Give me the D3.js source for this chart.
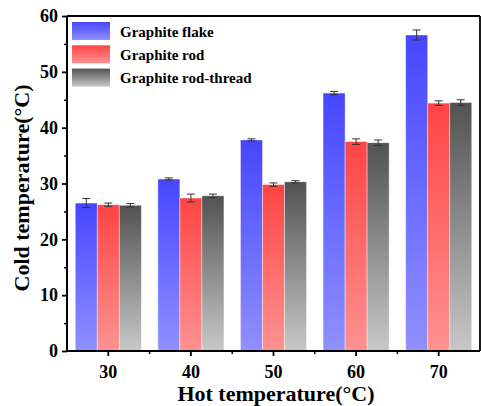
<!DOCTYPE html>
<html><head><meta charset="utf-8">
<script src="https://cdn.jsdelivr.net/npm/d3@7"></script>
<style>
body{margin:0;background:#fff;}
</style></head>
<body><svg id="c" width="481" height="406"></svg>
<script>
const categories = ["30","40","50","60","70"];
const seriesNames = ["Graphite flake","Graphite rod","Graphite rod-thread"];
const flake = [26.5, 30.8, 37.8, 46.2, 56.6];
const flakeErr = [0.8, 0.2, 0.2, 0.3, 0.9];
const rod = [26.2, 27.4, 29.8, 37.5, 44.4];
const rodErr = [0.3, 0.7, 0.3, 0.5, 0.4];
const thread = [26.1, 27.8, 30.3, 37.3, 44.5];
const threadErr = [0.3, 0.3, 0.2, 0.5, 0.5];
const yTicks = [0,10,20,30,40,50,60];
const yMinor = [5,15,25,35,45,55];
const xTitle = "Hot temperature(\u00B0C)";
const yTitle = "Cold temperature(\u00B0C)";

const gradColors = [["#4646ff","#9090ff"],["#ff4444","#ff9292"],["#525252","#c8c8c8"]];
const FONT = "Liberation Serif";

const svg = d3.select("#c");
const L = 67, R = 480, T = 16, B = 351;

const x0 = d3.scaleBand().domain(categories).range([L, R]).paddingInner(0.2).paddingOuter(0.1);
const x1 = d3.scaleBand().domain(seriesNames).range([0, x0.bandwidth()]);
const y = d3.scaleLinear().domain([0, 60]).range([B, T]);

const defs = svg.append("defs");
gradColors.forEach((c, i) => {
  const g = defs.append("linearGradient").attr("id", "g" + i).attr("x1", 0).attr("y1", 0).attr("x2", 0).attr("y2", 1);
  g.append("stop").attr("offset", "0%").attr("stop-color", c[0]);
  g.append("stop").attr("offset", "100%").attr("stop-color", c[1]);
});

const series = [
  {name: seriesNames[0], vals: flake, errs: flakeErr},
  {name: seriesNames[1], vals: rod, errs: rodErr},
  {name: seriesNames[2], vals: thread, errs: threadErr}
];

series.forEach((s, si) => {
  const data = categories.map((c, i) => ({c, v: s.vals[i], e: s.errs[i]}));
  const g = svg.append("g");
  g.selectAll("rect").data(data).join("rect")
    .attr("x", d => x0(d.c) + x1(s.name))
    .attr("y", d => y(d.v))
    .attr("width", x1.bandwidth())
    .attr("height", d => y(0) - y(d.v))
    .attr("fill", "url(#g" + si + ")")
    .attr("stroke", "rgba(255,255,255,0.5)").attr("stroke-width", 0.8);
  const eb = g.selectAll("g.eb").data(data).join("g").attr("class", "eb")
    .attr("stroke", "#333").attr("stroke-width", 1);
  const cx = d => x0(d.c) + x1(s.name) + x1.bandwidth() / 2;
  eb.append("line").attr("x1", cx).attr("x2", cx).attr("y1", d => y(d.v + d.e)).attr("y2", d => y(d.v - d.e));
  eb.append("line").attr("x1", d => cx(d) - 4).attr("x2", d => cx(d) + 4).attr("y1", d => y(d.v + d.e)).attr("y2", d => y(d.v + d.e));
  eb.append("line").attr("x1", d => cx(d) - 4).attr("x2", d => cx(d) + 4).attr("y1", d => y(d.v - d.e)).attr("y2", d => y(d.v - d.e));
});

svg.append("line").attr("x1", L).attr("x2", R).attr("y1", T).attr("y2", T).attr("stroke", "#000").attr("stroke-width", 1.8);
svg.append("line").attr("x1", R).attr("x2", R).attr("y1", T).attr("y2", B).attr("stroke", "#000").attr("stroke-width", 1.8);

function styleText(sel, size) {
  sel.attr("font-family", FONT).attr("font-weight", "bold").attr("font-size", size).attr("fill", "#000");
}

const yAxis = svg.append("g").attr("transform", `translate(${L},0)`)
  .call(d3.axisLeft(y).tickValues(yTicks).tickSize(5).tickPadding(4).tickFormat(d3.format("d")));
yAxis.attr("font-family", FONT);
yAxis.select(".domain").attr("stroke-width", 2).attr("d", `M0,${T}V${B}`);
yAxis.selectAll(".tick line").attr("stroke-width", 1.8);
styleText(yAxis.selectAll("text"), 18);
svg.append("g").attr("transform", `translate(${L},0)`)
  .call(d3.axisLeft(y).tickValues(yMinor).tickSize(3).tickFormat(""))
  .call(g => { g.select(".domain").remove(); g.selectAll("line").attr("stroke-width", 1.5); });

const xAxis = svg.append("g").attr("transform", `translate(0,${B})`)
  .call(d3.axisBottom(x0).tickSize(5).tickPadding(9));
xAxis.attr("font-family", FONT);
xAxis.select(".domain").attr("stroke-width", 2).attr("d", `M${L},0H${R}`);
xAxis.selectAll(".tick line").attr("stroke-width", 1.8);
styleText(xAxis.selectAll("text"), 18);
const bounds = categories.slice(1).map(c => x0(c) - x0.step() * x0.paddingInner() / 2);
svg.append("g").selectAll("line").data(bounds).join("line")
  .attr("x1", d => d).attr("x2", d => d).attr("y1", B).attr("y2", B + 3)
  .attr("stroke", "#000").attr("stroke-width", 1.5);

styleText(svg.append("text").attr("x", 276).attr("y", 401).attr("text-anchor", "middle").text(xTitle), 22);
styleText(svg.append("text").attr("transform", `translate(29,188) rotate(-90)`).attr("text-anchor", "middle").text(yTitle), 22);

const leg = svg.append("g");
seriesNames.forEach((n, i) => {
  const yy = 22 + i * 23.3;
  leg.append("rect").attr("x", 72).attr("y", yy).attr("width", 38).attr("height", 18).attr("fill", "url(#g" + i + ")");
  styleText(leg.append("text").attr("x", 120).attr("y", yy + 14.5).text(n), 15);
});
</script></body></html>
